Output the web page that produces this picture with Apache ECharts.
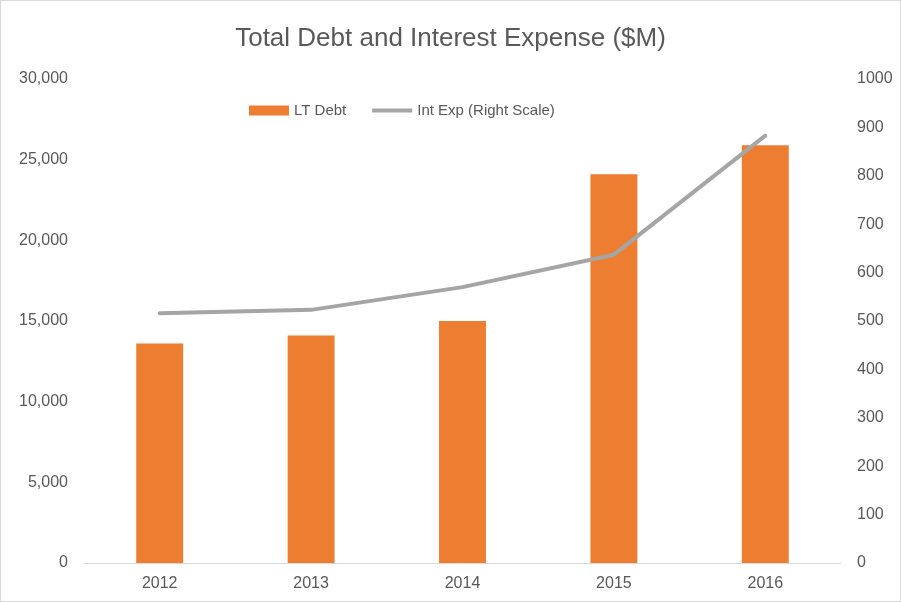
<!DOCTYPE html>
<html>
<head>
<meta charset="utf-8">
<script src="https://cdn.jsdelivr.net/npm/echarts@6/dist/echarts.min.js"></script>
<style>
  html, body { margin: 0; padding: 0; background: #fff; }
  #chart { width: 899px; height: 600px; border: 1px solid #d9d9d9; }
</style>
</head>
<body>
<div id="chart"></div>
<script>
// data
var years = ["2012", "2013", "2014", "2015", "2016"];
var ltDebt = [13600, 14100, 15000, 24100, 25900];
var intExp = [516, 523, 570, 637, 883];

var fontName = "Liberation Sans";
var textColor = "#595959";

var myChart = echarts.init(document.getElementById("chart"));
var option = {
  title: {
    text: "Total Debt and Interest Expense ($M)",
    left: "center",
    top: 20,
    textStyle: { fontFamily: fontName, fontSize: 26, fontWeight: "normal", color: textColor },
  },
  legend: {
    top: 97,
    left: 243,
    itemWidth: 40,
    itemHeight: 10,
    itemGap: 26,
    textStyle: { fontFamily: fontName, fontSize: 15, color: textColor },
    data: [
      { name: "LT Debt", icon: "rect" },
      { name: "Int Exp (Right Scale)", icon: "path://M0,0 L40,0 L40,4 L0,4 Z" },
    ],
  },
  grid: { left: 83, right: 59, top: 78, bottom: 38 },
  xAxis: [
    {
      type: "category",
      data: years,
      axisLine: { lineStyle: { color: "#d9d9d9", width: 1 } },
      axisTick: { show: false },
      axisLabel: { fontFamily: fontName, fontSize: 16, color: textColor, margin: 13 },
    },
  ],
  yAxis: [
    {
      type: "value",
      min: 0,
      max: 30000,
      interval: 5000,
      splitLine: { show: false },
      axisLine: { show: false },
      axisTick: { show: false },
      axisLabel: {
        fontFamily: fontName,
        fontSize: 16,
        color: textColor,
        margin: 16,
        formatter: function (v) { return v.toLocaleString("en-US"); },
      },
    },
    {
      type: "value",
      min: 0,
      max: 1000,
      interval: 100,
      splitLine: { show: false },
      axisLine: { show: false },
      axisTick: { show: false },
      axisLabel: {
        fontFamily: fontName,
        fontSize: 16,
        color: textColor,
        margin: 16,
        formatter: function (v) { return String(v); },
      },
    },
  ],
  series: [
    {
      name: "LT Debt",
      type: "bar",
      data: ltDebt,
      barWidth: "31%",
      itemStyle: { color: "#ED7D31" },
    },
    {
      name: "Int Exp (Right Scale)",
      type: "line",
      yAxisIndex: 1,
      data: intExp,
      symbol: "none",
      lineStyle: { color: "#A5A5A5", width: 4, cap: "round" },
      itemStyle: { color: "#A5A5A5" },
    },
  ],
};
myChart.setOption(option);
</script>
</body>
</html>
